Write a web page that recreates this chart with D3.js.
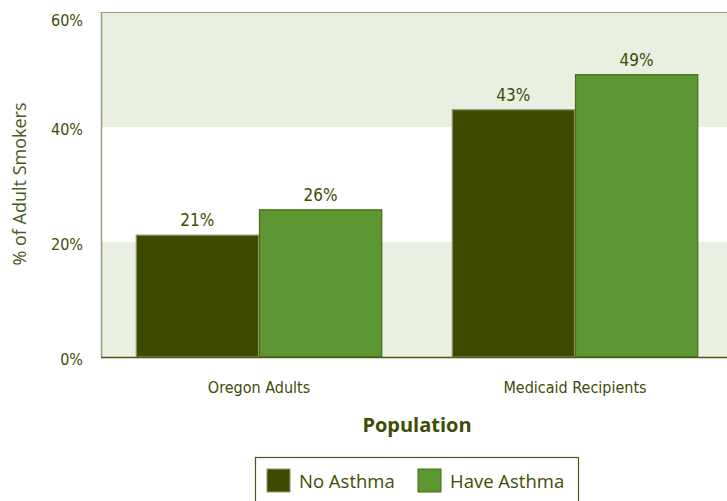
<!DOCTYPE html>
<html><head><meta charset="utf-8">
<script src="https://cdn.jsdelivr.net/npm/d3@7"></script>
<style>body{margin:0;background:#fff}svg{display:block}</style>
</head><body>
<script>
const categories = ["Oregon Adults", "Medicaid Recipients"];
const seriesNames = ["No Asthma", "Have Asthma"];
const noAsthma = [21.2, 43.0];
const haveAsthma = [25.6, 49.1];
const valueLabels = [["21%", "43%"], ["26%", "49%"]];
const yTicks = [0, 20, 40, 60];

const W = 727, H = 501;
const m = {left: 101, top: 12, right: -6, bottom: 144};
const svg = d3.select("body").append("svg").attr("width", W).attr("height", H);
const iw = W - m.left - m.right, ih = H - m.top - m.bottom;
const g = svg.append("g").attr("transform", `translate(${m.left},${m.top})`);
const y = d3.scaleLinear().domain([0, 60]).range([ih, 0]);
const x0 = d3.scaleBand().domain(categories).range([0, iw]).paddingInner(0.22).paddingOuter(0.11);
const x1 = d3.scaleBand().domain(seriesNames).range([0, x0.bandwidth()]);
const colors = {"No Asthma": "#3d4a00", "Have Asthma": "#5c9733"};
const strokes = {"No Asthma": "#8e9a70", "Have Asthma": "#4b6a12"};
const condensed = "'DejaVu Sans Condensed','DejaVu Sans',sans-serif";
const textCol = "#3f4c05";

function cond(sel, size) {
  sel.attr("font-family", condensed).attr("font-stretch", "condensed").attr("font-size", size)
     .attr("fill", textCol);
}

[[0,20,"#e9efe1"],[20,40,"#ffffff"],[40,60,"#e9efe1"]].forEach(([a,b,c])=>{
  g.append("rect").attr("x",0).attr("width",iw).attr("y",y(b)).attr("height",y(a)-y(b)).attr("fill",c);
});
g.append("line").attr("x1",0.5).attr("x2",0.5).attr("y1",0).attr("y2",ih).attr("stroke","#9aa07e").attr("stroke-width",1.5);
g.append("line").attr("x1",0).attr("x2",iw).attr("y1",0.5).attr("y2",0.5).attr("stroke","#9aa07e").attr("stroke-width",1);

const data = categories.map((c,i)=>({cat:c, vals:[
  {s:"No Asthma", v:noAsthma[i], lab:valueLabels[0][i]},
  {s:"Have Asthma", v:haveAsthma[i], lab:valueLabels[1][i]}]}));
const grp = g.selectAll(".grp").data(data).join("g").attr("transform", d=>`translate(${x0(d.cat)},0)`);
grp.selectAll("rect").data(d=>d.vals).join("rect")
  .attr("x", d=>x1(d.s)+0.5).attr("width", x1.bandwidth()-1)
  .attr("y", d=>y(d.v)).attr("height", d=>y(0)-y(d.v))
  .attr("fill", d=>colors[d.s]).attr("stroke", d=>strokes[d.s]).attr("stroke-width",1.2);
grp.selectAll("text").data(d=>d.vals).join("text")
  .attr("x", d=>x1(d.s)+x1.bandwidth()/2).attr("y", d=>y(d.v)-9)
  .attr("text-anchor","middle").call(cond, 17).text(d=>d.lab);

g.append("line").attr("x1",0).attr("x2",iw).attr("y1",ih+0.5).attr("y2",ih+0.5).attr("stroke","#4a5a10").attr("stroke-width",1.5);

const yAxis = g.append("g").call(d3.axisLeft(y).tickValues(yTicks).tickFormat(d=>d+"%").tickSize(0).tickPadding(18));
yAxis.select(".domain").remove();
yAxis.selectAll("text").call(cond, 16).attr("dy", d => d === 60 ? "0.85em" : "0.45em");

const xAxis = g.append("g").attr("transform",`translate(0,${ih})`).call(d3.axisBottom(x0).tickSize(0).tickPadding(25));
xAxis.select(".domain").remove();
xAxis.selectAll("text").call(cond, 16);

svg.append("text").attr("transform","translate(26,184) rotate(-90)").attr("text-anchor","middle")
  .attr("font-family","'Open Sans',sans-serif").attr("font-size",18).attr("fill","#4a5a16").text("% of Adult Smokers");
svg.append("text").attr("x",417).attr("y",432).attr("text-anchor","middle")
  .attr("font-family","'Open Sans',sans-serif").attr("font-weight","bold").attr("font-size",20).attr("fill","#3f4c05").text("Population");

const lg = svg.append("g");
lg.append("rect").attr("x",255.5).attr("y",457.5).attr("width",323).attr("height",50).attr("fill","#fff").attr("stroke","#4a5a10").attr("stroke-width",1.2);
const lx = [267, 418];
seriesNames.forEach((s,i)=>{
  lg.append("rect").attr("x",lx[i]).attr("y",469).attr("width",23).attr("height",23).attr("fill",colors[s]).attr("stroke",strokes[s]);
  lg.append("text").attr("x",lx[i]+32).attr("y",488).attr("font-family","'Open Sans',sans-serif").attr("font-size",18.5).attr("fill","#3f4c05").text(s);
});
</script>
</body></html>
